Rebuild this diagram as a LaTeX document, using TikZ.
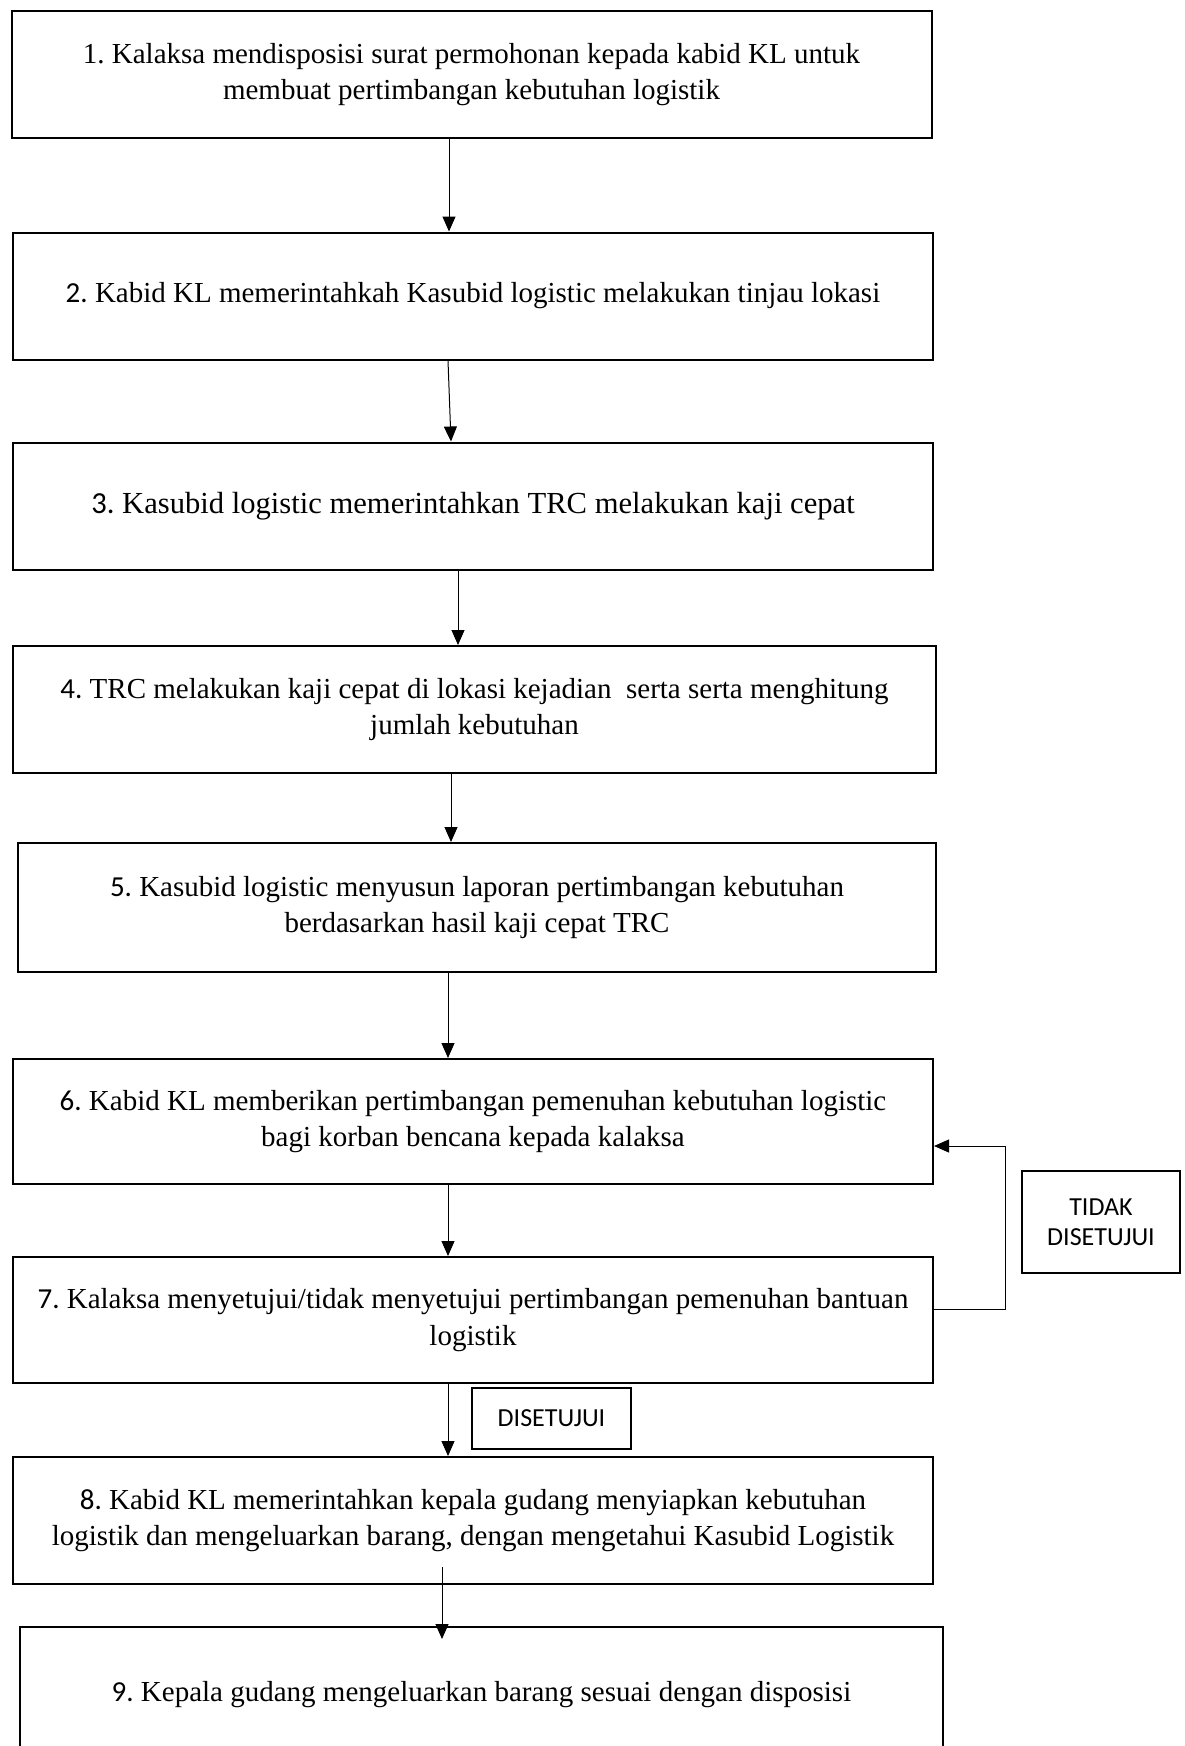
\documentclass[tikz,border=0pt]{standalone}
\usepackage{fontspec}
\setmainfont{Liberation Serif}
\newfontfamily\cfont{Carlito}
\usetikzlibrary{arrows.meta, calc}
\newcommand{\stepno}[1]{{\cfont #1.} }
\frenchspacing

\begin{document}
\begin{tikzpicture}[
  x=0.5pt, y=-0.5pt,
  stepbox/.style={draw, line width=1pt, minimum width=460pt, minimum height=63.5pt, align=center, inner sep=0pt, font=\fontsize{14.5}{18.2}\selectfont},
  tagbox/.style={draw, line width=1pt, align=center, inner sep=0pt, font=\cfont\fontsize{13}{15}\selectfont},
  arrow/.style={-{Triangle[length=7.5pt, width=6.5pt]}, line width=0.5pt}
]
\useasboundingbox (0,0) rectangle (1184,1746);

% Steps
\node[stepbox] (s1) at (471.5,74.5) {1. Kalaksa mendisposisi surat permohonan kepada kabid KL untuk\\membuat pertimbangan kebutuhan logistik};
\node[stepbox] (s2) at (473,296) {\stepno{2}Kabid KL memerintahkah Kasubid logistic melakukan tinjau lokasi};
\node[stepbox, font=\fontsize{15.3}{18.2}\selectfont] (s3) at (473,506) {\stepno{3}Kasubid logistic memerintahkan TRC melakukan kaji cepat};
\node[stepbox, minimum width=461.5pt] (s4) at (474.5,709.5) {\stepno{4}TRC melakukan kaji cepat di lokasi kejadian\ \ serta serta menghitung\\jumlah kebutuhan};
\node[stepbox, minimum width=459pt, minimum height=64.5pt] (s5) at (477,907.5) {\stepno{5}Kasubid logistic menyusun laporan pertimbangan kebutuhan\\berdasarkan hasil kaji cepat TRC};
\node[stepbox, minimum height=62.5pt] (s6) at (473,1121.5) {\stepno{6}Kabid KL memberikan pertimbangan pemenuhan kebutuhan logistic\\bagi korban bencana kepada kalaksa};
\node[stepbox, minimum height=63pt] (s7) at (473,1320) {\stepno{7}Kalaksa menyetujui/tidak menyetujui pertimbangan pemenuhan bantuan\\logistik};
\node[stepbox] (s8) at (473,1520.5) {\stepno{8}Kabid KL memerintahkan kepala gudang menyiapkan kebutuhan\\logistik dan mengeluarkan barang, dengan mengetahui Kasubid Logistik};
\node[stepbox, minimum width=461.5pt, minimum height=68pt] (s9) at (481.5,1695) {\stepno{9}Kepala gudang mengeluarkan barang sesuai dengan disposisi};

\draw[arrow] ($(s1.south)+(-22.5,0)$) -- ($(s2.north)+(-24,0)$);
\draw[arrow] ($(s2.south)+(-25,0)$) -- ($(s3.north)+(-22,0)$);
\draw[arrow] ($(s3.south)+(-15,0)$) -- ($(s4.north)+(-16.5,0)$);
\draw[arrow] ($(s4.south)+(-23.5,0)$) -- ($(s5.north)+(-26,0)$);
\draw[arrow] ($(s5.south)+(-29,0)$) -- ($(s6.north)+(-25,0)$);
\draw[arrow] ($(s6.south)+(-25,0)$) -- ($(s7.north)+(-25,0)$);
\draw[arrow] ($(s7.south)+(-25,0)$) -- ($(s8.north)+(-25,0)$);
\draw[arrow] ($(s8.south)+(-31,-18)$) -- ($(s9.north)+(-39.5,13)$);

% Decision
\draw[arrow] ($(s7.east)+(0,-11)$) -- ++(71,0) |- ($(s6.east)+(0,24.5)$);
\node[tagbox, minimum width=79pt, minimum height=51pt] (tidak) at (1101,1222) {TIDAK\\DISETUJUI};
\node[tagbox, minimum width=79.5pt, minimum height=30.5pt] (setuju) at (551.5,1418.5) {DISETUJUI};
\end{tikzpicture}
\end{document}
